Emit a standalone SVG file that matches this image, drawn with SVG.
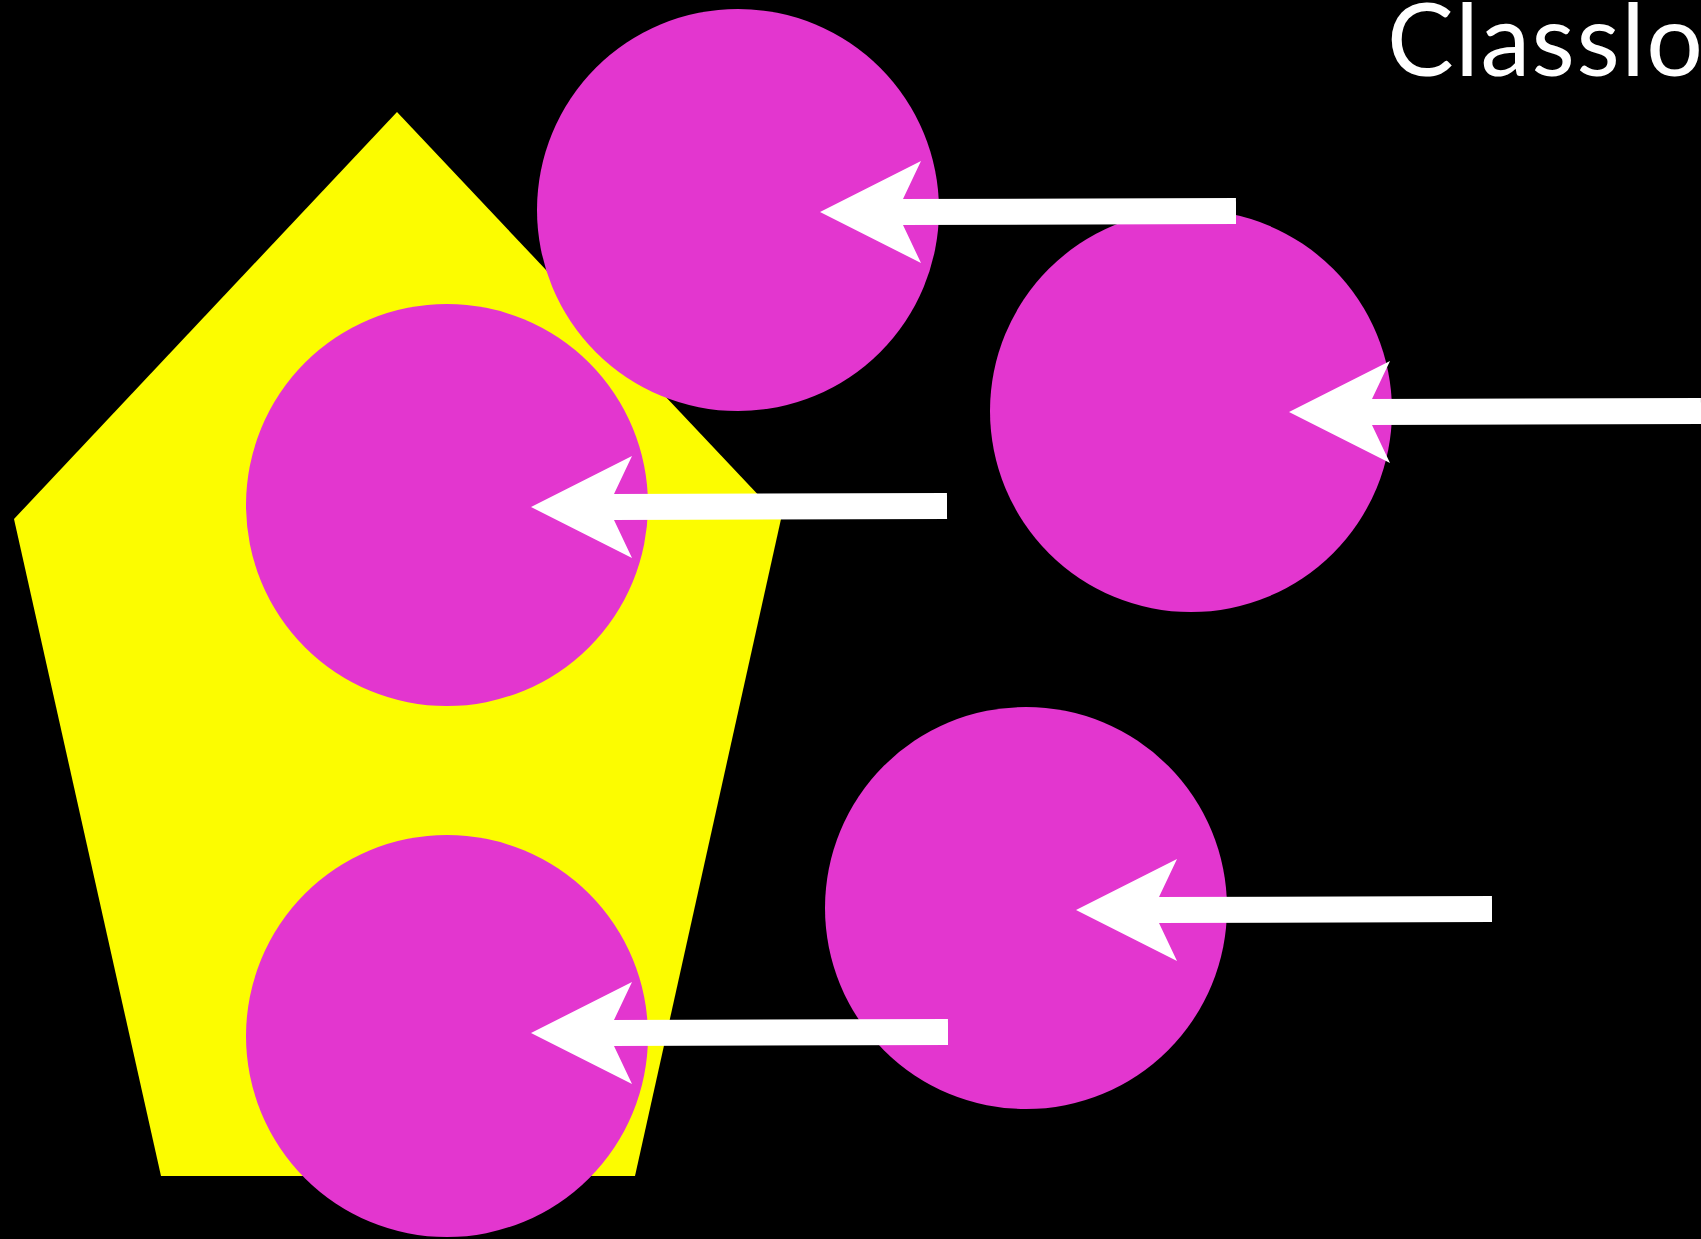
<svg xmlns="http://www.w3.org/2000/svg" xmlns:xlink="http://www.w3.org/1999/xlink" width="1701" height="1239" viewBox="0 0 1701 1239">
<style>
.bg{fill:#000}
.penta{fill:#FCFC00}
.ball{fill:#E336CF}
.shaft{stroke:#fff;stroke-width:26;fill:none}
.head{fill:#fff}
.title{fill:#fff;font-family:Lato,"Open Sans","Liberation Sans",sans-serif;font-size:100px;letter-spacing:1.5px}
</style>
<defs>
<path id="ah" d="M0,0 L101,-51 L83,-13 L83,13 L101,51 Z"/>
</defs>
<rect class="bg" x="0" y="0" width="1701" height="1239"/>
<g id="pentagon"><polygon class="penta" points="397,112 781,519 635,1176 161,1176 14,519"/></g>
<g id="circle-top"><circle class="ball" cx="738" cy="210" r="201"/></g>
<g id="circle-mid-left"><circle class="ball" cx="447" cy="505" r="201"/></g>
<g id="circle-bottom-left"><circle class="ball" cx="447" cy="1036" r="201"/></g>
<g id="circle-right-upper"><circle class="ball" cx="1191" cy="411" r="201"/></g>
<g id="circle-right-lower"><circle class="ball" cx="1026" cy="908" r="201"/></g>
<g id="connectors">
<line class="shaft" x1="900" y1="212" x2="1236" y2="211"/><use class="head" xlink:href="#ah" x="820" y="212"/>
<line class="shaft" x1="1369" y1="412" x2="1701" y2="411"/><use class="head" xlink:href="#ah" x="1289" y="412"/>
<line class="shaft" x1="611" y1="507" x2="947" y2="506"/><use class="head" xlink:href="#ah" x="531" y="507"/>
<line class="shaft" x1="611" y1="1033" x2="948" y2="1032"/><use class="head" xlink:href="#ah" x="531" y="1033"/>
<line class="shaft" x1="1156" y1="910" x2="1492" y2="909"/><use class="head" xlink:href="#ah" x="1076" y="910"/>
</g>
<text class="title" x="1387" y="76">Classlo</text>
</svg>
